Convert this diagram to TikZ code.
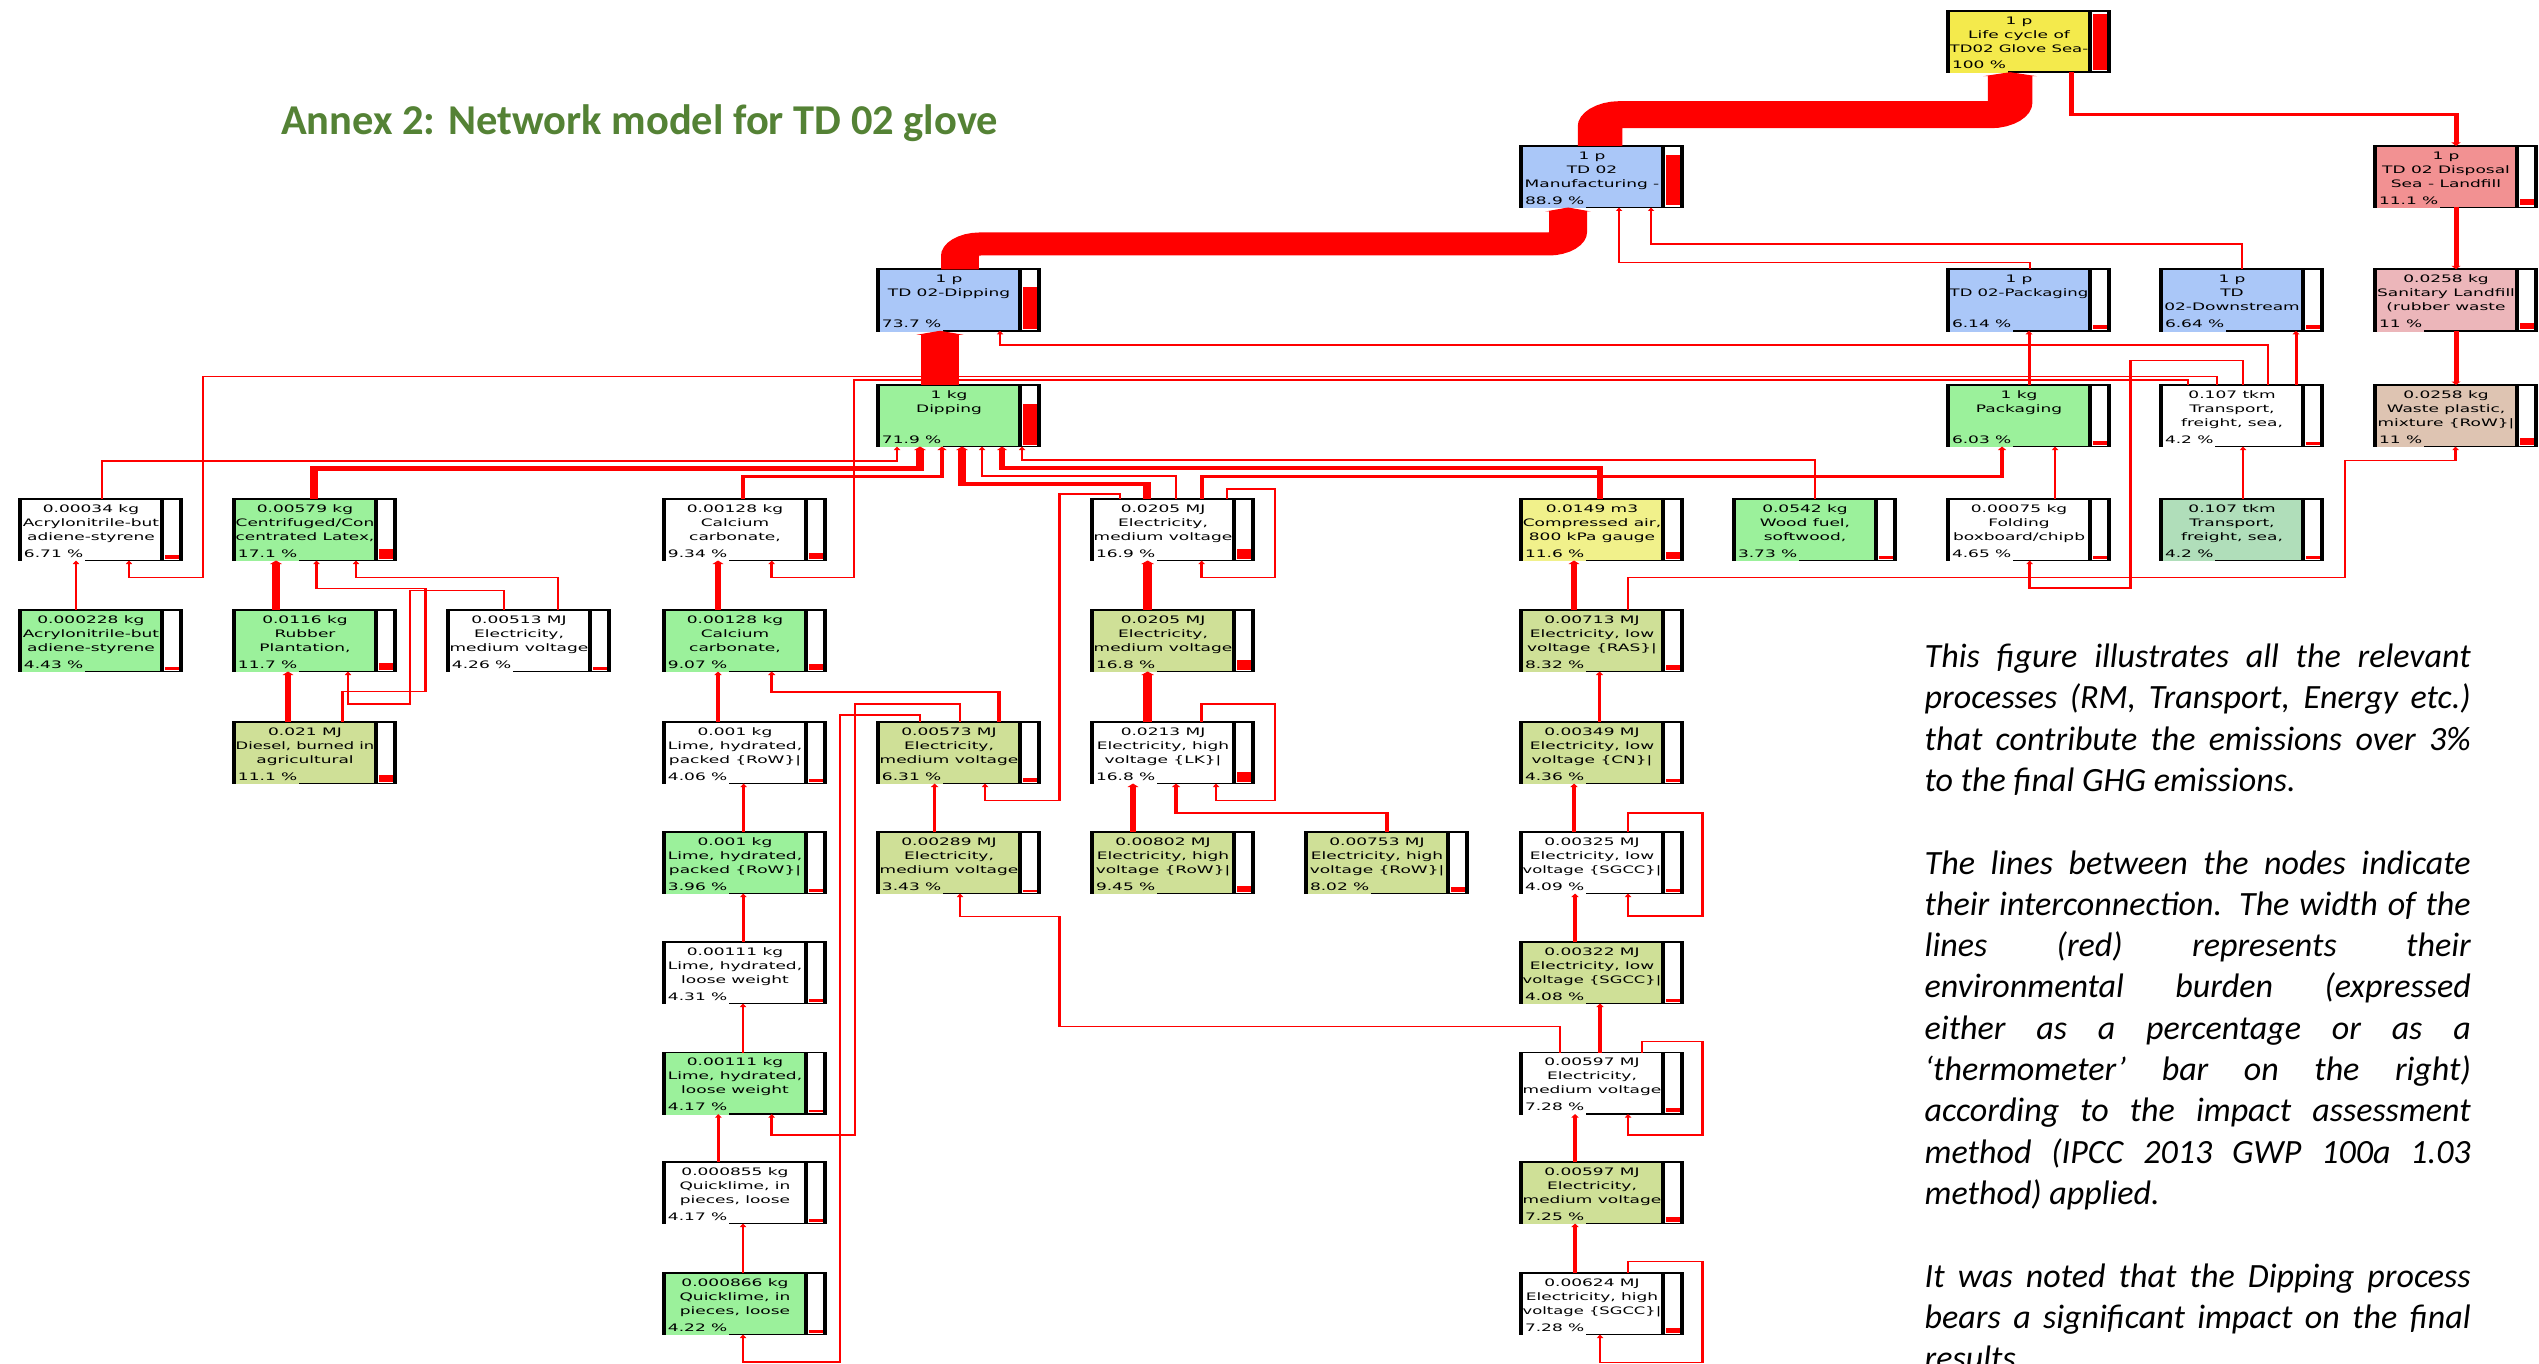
\documentclass[tikz,border=0pt]{standalone}
\usepackage{fontspec}
\usepackage{graphicx}
\usetikzlibrary{arrows.meta,calc}
\newfontfamily\nodefont{DejaVu Sans}
\newfontfamily\carlito{Carlito}
\definecolor{cyellow}{RGB}{244,234,76}
\definecolor{cblue}{RGB}{170,199,248}
\definecolor{cred}{RGB}{242,145,146}
\definecolor{cpink}{RGB}{236,182,186}
\definecolor{ctan}{RGB}{222,196,178}
\definecolor{cgreen}{RGB}{155,241,155}
\definecolor{colive}{RGB}{207,224,151}
\definecolor{clyellow}{RGB}{241,241,139}
\definecolor{ctgreen}{RGB}{176,222,186}
\definecolor{flowred}{RGB}{255,0,0}
\definecolor{titlegreen}{RGB}{84,130,53}
\newcommand\fitline[1]{\sbox0{#1}\ifdim\wd0>84pt\resizebox{84pt}{\height}{#1}\else\usebox0\fi}
\tikzset{
  pbox/.style={draw=black, line width=1.9pt, minimum width=97.58pt, minimum height=61.5pt, inner sep=0pt, outer sep=0pt},
  ptext/.style={anchor=base, inner sep=0pt, font=\nodefont\fontsize{10.3}{12}\selectfont},
  pctext/.style={anchor=base west, inner xsep=1pt, inner ysep=1pt, text depth=3pt, font=\nodefont\fontsize{10.3}{12}\selectfont},
  flow/.style={draw=flowred, line width=#1pt, -{Triangle[length=3.5pt, width=2pt 1.1]}},
  band/.style={draw=flowred, line width=#1pt, rounded corners=12pt, -{Triangle[length=4pt, width=0pt 1.2]}},
  para/.style={anchor=base west, inner sep=0pt, font=\carlito\itshape\fontsize{34}{41}\selectfont},
}
\newcommand\proc[8]{%
  \node[pbox,fill=#4,anchor=north west] (#1) at (#2,#3) {};
  \fill[white] ($(#1.north west)+(142,0)$) rectangle (#1.south east);
  \fill[flowred] ($(#1.north west)+(144.5,{59.5-0.565*#5})$) rectangle ($(#1.north west)+(159.5,59.5)$);
  \draw[line width=1.9pt] (#1.north west) rectangle (#1.south east);
  \draw[line width=1.9pt] ($(#1.north west)+(142,0)$) -- ($(#1.south west)+(142,0)$);
  \node[ptext] at ($(#1.north west)+(71,13.4)$) {\fitline{#6}};
  \node[ptext] at ($(#1.north west)+(71,27.4)$) {\fitline{#7}};
  \node[ptext] at ($(#1.north west)+(71,41.4)$) {\fitline{#8}};
  \node[pctext,fill=#4] at ($(#1.north west)+(2,58.3)$) {#5 \%};
}
\begin{document}
\begin{tikzpicture}[x=1pt,y=-1pt]
\useasboundingbox (0,0) rectangle (2539,1364);
\fill[white] (0,0) rectangle (2539,1364);
\node[anchor=base west, inner sep=0pt, font=\carlito\bfseries\fontsize{42.5}{50}\selectfont, text=titlegreen] (title) at (281,135) {Annex 2: Network model for TD 02 glove};
\node[para] (p1) at (1924.5,667.5) {\makebox[546pt][s]{This figure illustrates all the relevant}};
\node[para] (p2) at (1924.5,708.8) {\makebox[546pt][s]{processes (RM, Transport, Energy etc.)}};
\node[para] (p3) at (1924.5,750.1) {\makebox[546pt][s]{that contribute the emissions over 3\%}};
\node[para] (p4) at (1924.5,791.4) {to the final GHG emissions.};
\node[para] (p5) at (1924.5,874.0) {\makebox[546pt][s]{The lines between the nodes indicate}};
\node[para] (p6) at (1924.5,915.3) {\makebox[546pt][s]{their interconnection. The width of the}};
\node[para] (p7) at (1924.5,956.6) {\makebox[546pt][s]{lines (red) represents their}};
\node[para] (p8) at (1924.5,997.9) {\makebox[546pt][s]{environmental burden (expressed}};
\node[para] (p9) at (1924.5,1039.2) {\makebox[546pt][s]{either as a percentage or as a}};
\node[para] (p10) at (1924.5,1080.5) {\makebox[546pt][s]{‘thermometer’ bar on the right)}};
\node[para] (p11) at (1924.5,1121.8) {\makebox[546pt][s]{according to the impact assessment}};
\node[para] (p12) at (1924.5,1163.1) {\makebox[546pt][s]{method (IPCC 2013 GWP 100a 1.03}};
\node[para] (p13) at (1924.5,1204.4) {method) applied.};
\node[para] (p14) at (1924.5,1287.0) {\makebox[546pt][s]{It was noted that the Dipping process}};
\node[para] (p15) at (1924.5,1328.3) {\makebox[546pt][s]{bears a significant impact on the final}};
\node[para] (p16) at (1924.5,1369.6) {results.};
\begin{scope}[x=0.60606pt, y=-1pt, transform canvas={xscale=1.65}]
% row 0-3
\proc{life}{1948}{10.7}{cyellow}{100}{1 p}{Life cycle of}{TD02 Glove Sea-}
\proc{manuf}{1521}{146}{cblue}{88.9}{1 p}{TD 02}{Manufacturing -}
\proc{disp}{2375}{146}{cred}{11.1}{1 p}{TD 02 Disposal}{Sea - Landfill}
\proc{tddip}{878}{269.3}{cblue}{73.7}{1 p}{TD 02-Dipping}{}
\proc{tdpack}{1948}{269.3}{cblue}{6.14}{1 p}{TD 02-Packaging}{}
\proc{tddown}{2161}{269.3}{cblue}{6.64}{1 p}{TD}{02-Downstream}
\proc{sanit}{2375}{269.3}{cpink}{11}{0.0258 kg}{Sanitary Landfill}{(rubber waste}
\proc{dip}{878}{385}{cgreen}{71.9}{1 kg}{Dipping}{}
\proc{pack}{1948}{385}{cgreen}{6.03}{1 kg}{Packaging}{}
\proc{trans1}{2161}{385}{white}{4.2}{0.107 tkm}{Transport,}{freight, sea,}
\proc{waste}{2375}{385}{ctan}{11}{0.0258 kg}{Waste plastic,}{mixture \{RoW\}|}
% row 4
\proc{abs1}{20}{499}{white}{6.71}{0.00034 kg}{Acrylonitrile-but}{adiene-styrene}
\proc{latex}{234}{499}{cgreen}{17.1}{0.00579 kg}{Centrifuged/Con}{centrated Latex,}
\proc{caco1}{664}{499}{white}{9.34}{0.00128 kg}{Calcium}{carbonate,}
\proc{elecm1}{1092}{499}{white}{16.9}{0.0205 MJ}{Electricity,}{medium voltage}
\proc{air}{1521}{499}{clyellow}{11.6}{0.0149 m3}{Compressed air,}{800 kPa gauge}
\proc{wood}{1734}{499}{cgreen}{3.73}{0.0542 kg}{Wood fuel,}{softwood,}
\proc{fold}{1948}{499}{white}{4.65}{0.00075 kg}{Folding}{boxboard/chipb}
\proc{trans2}{2161}{499}{ctgreen}{4.2}{0.107 tkm}{Transport,}{freight, sea,}
% row 5
\proc{abs2}{20}{610}{cgreen}{4.43}{0.000228 kg}{Acrylonitrile-but}{adiene-styrene}
\proc{rubber}{234}{610}{cgreen}{11.7}{0.0116 kg}{Rubber}{Plantation,}
\proc{elec513}{448}{610}{white}{4.26}{0.00513 MJ}{Electricity,}{medium voltage}
\proc{caco2}{664}{610}{cgreen}{9.07}{0.00128 kg}{Calcium}{carbonate,}
\proc{elecm2}{1092}{610}{colive}{16.8}{0.0205 MJ}{Electricity,}{medium voltage}
\proc{elecras}{1521}{610}{colive}{8.32}{0.00713 MJ}{Electricity, low}{voltage \{RAS\}|}
% row 6
\proc{diesel}{234}{722}{colive}{11.1}{0.021 MJ}{Diesel, burned in}{agricultural}
\proc{lime1}{664}{722}{white}{4.06}{0.001 kg}{Lime, hydrated,}{packed \{RoW\}|}
\proc{elec573}{878}{722}{colive}{6.31}{0.00573 MJ}{Electricity,}{medium voltage}
\proc{eleclk}{1092}{722}{white}{16.8}{0.0213 MJ}{Electricity, high}{voltage \{LK\}|}
\proc{eleccn}{1521}{722}{colive}{4.36}{0.00349 MJ}{Electricity, low}{voltage \{CN\}|}
% row 7
\proc{lime2}{664}{832}{cgreen}{3.96}{0.001 kg}{Lime, hydrated,}{packed \{RoW\}|}
\proc{elec289}{878}{832}{colive}{3.43}{0.00289 MJ}{Electricity,}{medium voltage}
\proc{elec802}{1092}{832}{colive}{9.45}{0.00802 MJ}{Electricity, high}{voltage \{RoW\}|}
\proc{elec753}{1306}{832}{colive}{8.02}{0.00753 MJ}{Electricity, high}{voltage \{RoW\}|}
\proc{elecsg1}{1521}{832}{white}{4.09}{0.00325 MJ}{Electricity, low}{voltage \{SGCC\}|}
% rows 8-11
\proc{lime3}{664}{942}{white}{4.31}{0.00111 kg}{Lime, hydrated,}{loose weight}
\proc{elecsg2}{1521}{942}{colive}{4.08}{0.00322 MJ}{Electricity, low}{voltage \{SGCC\}|}
\proc{lime4}{664}{1052.5}{cgreen}{4.17}{0.00111 kg}{Lime, hydrated,}{loose weight}
\proc{elecm597}{1521}{1052.5}{white}{7.28}{0.00597 MJ}{Electricity,}{medium voltage}
\proc{qlime1}{664}{1162}{white}{4.17}{0.000855 kg}{Quicklime, in}{pieces, loose}
\proc{elecm597b}{1521}{1162}{colive}{7.25}{0.00597 MJ}{Electricity,}{medium voltage}
\proc{qlime2}{664}{1273}{cgreen}{4.22}{0.000866 kg}{Quicklime, in}{pieces, loose}
\proc{elech624}{1521}{1273}{white}{7.28}{0.00624 MJ}{Electricity, high}{voltage \{SGCC\}|}
% ---------- connectors ----------
\draw[flow=3] ($(life.south west)+(123,0)$) -- ++(0,42) -| ($(disp.north west)+(81,0)$);
\draw[flow=3] ($(disp.south west)+(81,0)$) -- ($(sanit.north west)+(81,0)$);
\draw[flow=3] ($(sanit.south west)+(81,0)$) -- ($(waste.north west)+(81,0)$);
\draw[flow=1.5] ($(tdpack.north west)+(82,0)$) -- ++(0,-7) -| ($(manuf.south west)+(98,0)$);
\draw[flow=1.5] ($(tddown.north west)+(81,0)$) -- ++(0,-25.3) -| ($(manuf.south west)+(130,0)$);
\draw[flow=1.5] ($(trans1.north west)+(107,0)$) -- ++(0,-40) -| ($(tddip.south west)+(122,0)$);
\draw[flow=1.8] ($(pack.north west)+(81,0)$) -- ($(tdpack.south west)+(81,0)$);
\draw[flow=1.8] ($(trans1.north west)+(135,0)$) -- ($(tddown.south west)+(135,0)$);
\draw[flow=1.5] ($(abs1.north west)+(82,0)$) -- ++(0,-38) -| ($(dip.south west)+(19,0)$);
\draw[flow=4.5] ($(latex.north west)+(80,0)$) -- ++(0,-30.5) -| ($(dip.south west)+(42,0)$);
\draw[flow=3] ($(caco1.north west)+(79,0)$) -- ++(0,-23) -| ($(dip.south west)+(64,0)$);
\draw[flow=4.5] ($(elecm1.north west)+(55,0)$) -- ++(0,-15) -| ($(dip.south west)+(84,0)$);
\draw[flow=1.5] ($(elecm1.north west)+(84,0)$) -- ++(0,-23) -| ($(dip.south west)+(104,0)$);
\draw[flow=3.5] ($(air.north west)+(79,0)$) -- ++(0,-31) -| ($(dip.south west)+(124,0)$);
\draw[flow=1.5] ($(wood.north west)+(81,0)$) -- ++(0,-39) -| ($(dip.south west)+(144,0)$);
\draw[flow=2.5] ($(elecm1.north west)+(110,0)$) -- ++(0,-22.3) -| ($(pack.south west)+(54,0)$);
\draw[flow=1.5] ($(fold.north west)+(107,0)$) -- ($(pack.south west)+(107,0)$);
\draw[flow=1.5] ($(trans2.north west)+(82,0)$) -- ($(trans1.south west)+(82,0)$);
\draw[flow=1.5] ($(trans1.north west)+(82,0)$) -- ++(0,-24.3) -| (2130.6,588) -| ($(fold.south west)+(81.6,0)$);
\draw[flow=1.5] ($(trans1.north west)+(56,0)$) -- ++(0,-8.3) -| (203,577.7) -| ($(abs1.south west)+(109,0)$);
\draw[flow=1.5] ($(trans1.north west)+(27,0)$) -- ++(0,-5) -| (854,577.7) -| ($(caco1.south west)+(107.7,0)$);
\draw[flow=1.5] ($(elecras.north west)+(107,0)$) -- ++(0,-32.3) -| (2345,460.7) -| ($(waste.south west)+(80.5,0)$);
\draw[flow=1.5] ($(abs2.north west)+(56,0)$) -- ($(abs1.south west)+(56,0)$);
\draw[flow=4.5] ($(rubber.north west)+(42,0)$) -- ($(latex.south west)+(42,0)$);
\draw[flow=4] ($(diesel.north west)+(54,0)$) -- ($(rubber.south west)+(54,0)$);
\draw[flow=1.5] ($(diesel.north west)+(108.5,0)$) -- ++(0,-30.3) -| (425.5,588.3) -| ($(latex.south west)+(82.5,0)$);
\draw[flow=1.5] ($(elec513.north west)+(110,0)$) -- ++(0,-32.3) -| ($(latex.south west)+(122,0)$);
\draw[flow=1.5] ($(elec513.north west)+(56,0)$) -- ++(0,-19.3) -| (410,704) -| ($(rubber.south west)+(114,0)$);
\draw[flow=4] ($(caco2.north west)+(54,0)$) -- ($(caco1.south west)+(54,0)$);
\draw[flow=2] ($(lime1.north west)+(54,0)$) -- ($(caco2.south west)+(54,0)$);
\draw[flow=2] ($(elec573.north west)+(121,0)$) -- ++(0,-30.3) -| ($(caco2.south west)+(107.7,0)$);
\draw[flow=1.5] ($(lime2.north west)+(79.6,0)$) -- ($(lime1.south west)+(79.6,0)$);
\draw[flow=1.5] ($(lime3.north west)+(79.3,0)$) -- ($(lime2.south west)+(79.3,0)$);
\draw[flow=1.5] ($(lime4.north west)+(79,0)$) -- ($(lime3.south west)+(79,0)$);
\draw[flow=1.5] ($(qlime1.north west)+(54.3,0)$) -- ($(lime4.south west)+(54.3,0)$);
\draw[flow=1.5] ($(qlime2.north west)+(79,0)$) -- ($(qlime1.south west)+(79,0)$);
\draw[flow=1.5] ($(elec573.north west)+(82,0)$) -- ++(0,-18) -| (855,1135) -| ($(lime4.south west)+(107.7,0)$);
\draw[flow=1.5] ($(elec573.north west)+(42,0)$) -- ++(0,-7) -| (840,1362) -| ($(qlime2.south west)+(79,0)$);
\draw[flow=1.5] ($(elecm1.north west)+(135,0)$) -- ++(0,-10) -| (1275,577.7) -| ($(elecm1.south west)+(109.6,0)$);
\draw[flow=5] ($(elecm2.north west)+(55.6,0)$) -- ($(elecm1.south west)+(55.6,0)$);
\draw[flow=5] ($(eleclk.north west)+(55.6,0)$) -- ($(elecm2.south west)+(55.6,0)$);
\draw[flow=1.5] ($(elecm1.north west)+(28,0)$) -- ++(0,-5) -| (1059.6,800.7) -| ($(elec573.south west)+(107,0)$);
\draw[flow=2] ($(elec289.north west)+(56.6,0)$) -- ($(elec573.south west)+(56.6,0)$);
\draw[flow=1.5] ($(eleclk.north west)+(109.6,0)$) -- ++(0,-18) -| (1275,800.7) -| ($(eleclk.south west)+(124,0)$);
\draw[flow=4] ($(elec802.north west)+(41,0)$) -- ($(eleclk.south west)+(41,0)$);
\draw[flow=2.5] ($(elec753.north west)+(81,0)$) -- ++(0,-19) -| ($(eleclk.south west)+(84,0)$);
\draw[flow=1.5] ($(elecm597.north west)+(39,0)$) -- ++(0,-25.8) -| (1059.3,916.7) -| ($(elec289.south west)+(82,0)$);
\draw[flow=4] ($(elecras.north west)+(53,0)$) -- ($(air.south west)+(53,0)$);
\draw[flow=2] ($(eleccn.north west)+(78.5,0)$) -- ($(elecras.south west)+(78.5,0)$);
\draw[flow=2] ($(elecsg1.north west)+(53,0)$) -- ($(eleccn.south west)+(53,0)$);
\draw[flow=1.5] ($(elecsg1.north west)+(107,0)$) -- ++(0,-19) -| (1702.7,916) -| ($(elecsg1.south west)+(107,0)$);
\draw[flow=2] ($(elecsg2.north west)+(54,0)$) -- ($(elecsg1.south west)+(54,0)$);
\draw[flow=2] ($(elecm597.north west)+(79,0)$) -- ($(elecsg2.south west)+(79,0)$);
\draw[flow=1.5] ($(elecm597.north west)+(121,0)$) -- ++(0,-10.8) -| (1702.7,1135) -| ($(elecm597.south west)+(107,0)$);
\draw[flow=2] ($(elecm597b.north west)+(54,0)$) -- ($(elecm597.south west)+(54,0)$);
\draw[flow=2] ($(elech624.north west)+(54,0)$) -- ($(elecm597b.south west)+(54,0)$);
\draw[flow=1.5] ($(elech624.north west)+(107,0)$) -- ++(0,-11.3) -| (1702.7,1362.3) -| ($(elech624.south west)+(79,0)$);
% thick bands
\draw[band=27] ($(manuf.north west)+(79,0)$) -- ++(0,-31.3) -| ($(life.south west)+(62,0)$);
\draw[band=23] ($(tddip.north west)+(82,0)$) -- ++(0,-25.3) -| ($(manuf.south west)+(47,0)$);
\draw[band=23.5] ($(dip.north west)+(62,0)$) -- ($(tddip.south west)+(62,0)$);
\end{scope}
\end{tikzpicture}
\end{document}
